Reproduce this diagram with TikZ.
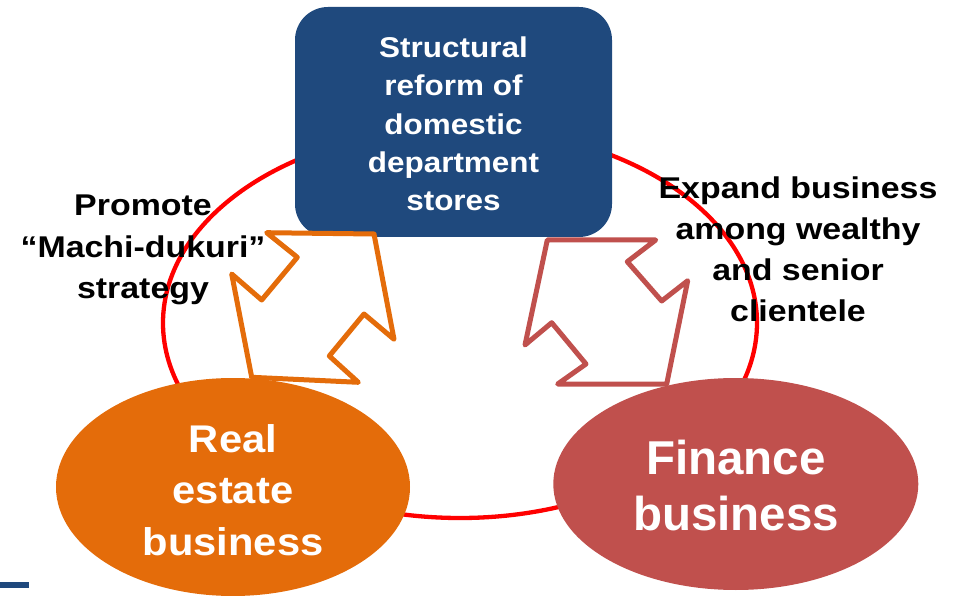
\documentclass[tikz,border=0pt]{standalone}
\usepackage{fontspec}
\usepackage{graphicx}
\setmainfont{Liberation Sans}
\definecolor{boxblue}{HTML}{1F497D}
\definecolor{realorange}{HTML}{E46C0A}
\definecolor{finred}{HTML}{C0504D}
\newcommand{\xs}[2]{\scalebox{#1}[1]{#2}}
\begin{document}
\begin{tikzpicture}[x=1pt,y=-1pt,
  cyclering/.style={draw=red, line width=4.3pt},
  topbox/.style={fill=boxblue, draw=none, rounded corners=33pt},
  blob/.style={draw=none},
  bigarrow/.style={fill=white, line width=5pt, line join=round},
  boxtxt/.style={font=\bfseries\fontsize{28.6}{28.6}\selectfont, text=white, inner sep=0pt, anchor=base},
  lbl/.style={font=\bfseries\fontsize{30}{30}\selectfont, text=black, inner sep=0pt, anchor=base},
  realtxt/.style={font=\bfseries\fontsize{38.6}{38.6}\selectfont, text=white, inner sep=0pt, anchor=base},
  fintxt/.style={font=\bfseries\fontsize{47.5}{47.5}\selectfont, text=white, inner sep=0pt, anchor=base}]
\useasboundingbox (0,0) rectangle (962,596);
% cycle ring
\draw[cyclering] (460,323) ellipse [x radius=297, y radius=195];
% top box
\path[topbox] (295,7) rectangle (612,237);
\coordinate (topc) at (453.5,122);
% ellipses
\fill[realorange] (233,487) ellipse [x radius=177, y radius=109];
\coordinate (realc) at (233,487);
\fill[finred] (735.8,484) ellipse [x radius=182.5, y radius=106];
\coordinate (finc) at (735.8,484);
% arrows
\draw[bigarrow, draw=realorange] (266.7,232.7) -- (374,234) -- (394,339.3) -- (364,314) -- (329.3,356) -- (358.3,382.3) -- (251.7,377.3) -- (231.7,274) -- (261.7,300) -- (297.3,257.3) -- cycle;
\draw[bigarrow, draw=finred] (547.3,240) -- (655.7,240) -- (627.3,261.7) -- (661.7,301) -- (687.7,280.7) -- (666.7,384) -- (557.7,384) -- (586,364) -- (551.7,322.7) -- (525,345) -- cycle;
% small bar bottom left
\fill[boxblue] (0,581.5) rectangle (29,587.5);
% top box text
\node[boxtxt] (t1) at (453.5,57.3) {\xs{1.1}{Structural}};
\node[boxtxt] (t2) at (453.5,95.8) {\xs{1.1}{reform of}};
\node[boxtxt] (t3) at (453.5,134.2) {\xs{1.1}{domestic}};
\node[boxtxt] (t4) at (453.5,172.2) {\xs{1.1}{department}};
\node[boxtxt] (t5) at (453.5,210.5) {\xs{1.1}{stores}};
% left label
\node[lbl] (p1) at (143,215.5) {\xs{1.13}{Promote}};
\node[lbl] (p2) at (143,258) {\xs{1.13}{“Machi-dukuri”}};
\node[lbl] (p3) at (143,298.5) {\xs{1.13}{strategy}};
% right label
\node[lbl] (e1) at (798,198.3) {\xs{1.13}{Expand business}};
\node[lbl] (e2) at (798,240) {\xs{1.13}{among wealthy}};
\node[lbl] (e3) at (798,280.7) {\xs{1.13}{and senior}};
\node[lbl] (e4) at (798,321.7) {\xs{1.13}{clientele}};
% real estate text
\node[realtxt] (r1) at (233,452.7) {\xs{1.08}{Real}};
\node[realtxt] (r2) at (233,503.5) {\xs{1.08}{estate}};
\node[realtxt] (r3) at (233,555) {\xs{1.08}{business}};
% finance text
\node[fintxt] (f1) at (736,474.3) {Finance};
\node[fintxt] (f2) at (736,530) {business};
\end{tikzpicture}
\end{document}
